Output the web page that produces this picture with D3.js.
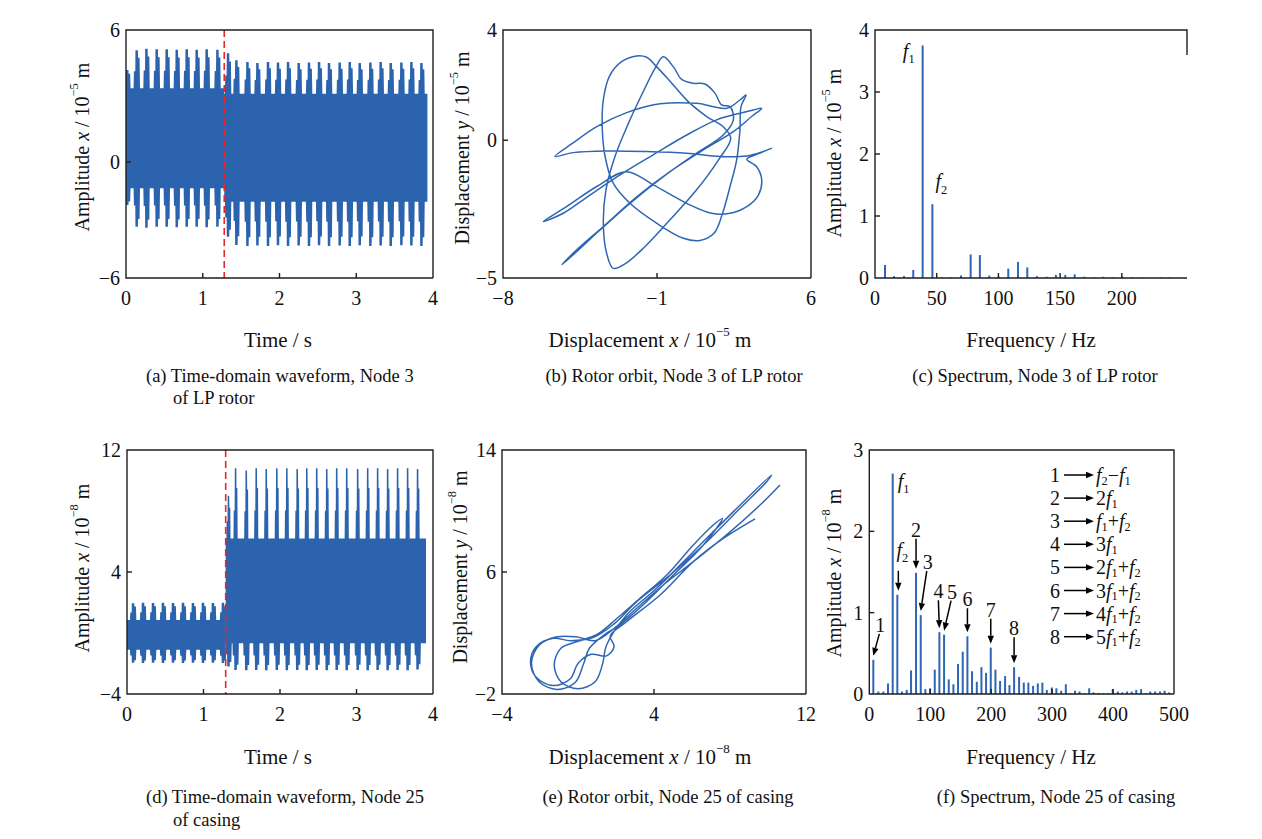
<!DOCTYPE html>
<html>
<head>
<meta charset="utf-8">
<script src="https://cdn.jsdelivr.net/npm/d3@7/dist/d3.min.js"></script>
<style>
  html, body { margin: 0; padding: 0; background: #fff; }
  svg { display: block; font-family: "Liberation Serif", "Times New Roman", serif; }
</style>
</head>
<body>
<svg id="fig" width="1262" height="839"></svg>
<script>
// ================= Data =================

// (a) Node 3 of LP rotor, time-domain waveform (10^-5 m), beat envelope
const aSwitch = 1.28, aEnd = 3.93;
const aBandHi = [3.35, 3.1];      // upper edge of the dense band: before / after the switch
const aBandLo = [-1.36, -2.05];   // lower edge of the dense band
const aBeatT  = [0.02, 0.143, 0.270, 0.404, 0.534, 0.665, 0.795, 0.925, 1.055, 1.195,
                 1.333, 1.442, 1.586, 1.716, 1.854, 1.984, 2.115, 2.254, 2.388, 2.519,
                 2.649, 2.788, 2.919, 3.049, 3.188, 3.322, 3.453, 3.592, 3.722, 3.853];
const aBeatHi = [4.18, 5.08, 5.15, 5.12, 5.12, 5.10, 5.12, 5.10, 5.12, 5.10,
                 4.94, 4.62, 4.55, 4.50, 4.55, 4.52, 4.55, 4.50, 4.52, 4.55,
                 4.50, 4.52, 4.55, 4.50, 4.52, 4.55, 4.50, 4.52, 4.55, 4.50];
const aBeatLo = [-2.22, -3.35, -3.40, -3.35, -3.35, -3.38, -3.35, -3.35, -3.38, -3.35,
                 -3.86, -4.29, -4.35, -4.32, -4.35, -4.30, -4.35, -4.32, -4.35, -4.30,
                 -4.35, -4.32, -4.35, -4.30, -4.35, -4.32, -4.35, -4.30, -4.32, -4.35];

// (b) Node 3 of LP rotor, orbit (10^-5 m)
const orbitB = [
  [-1.92, 3.06], [-2.61, 2.85], [-3.17, 2.31], [-3.44, 1.46], [-3.49, 0.49], [-3.36, -0.59],
  [-2.99, -1.56], [-2.23, -2.29], [-1.02, -3.01], [0.20, -3.56], [0.95, -3.64], [1.59, -3.38],
  [1.98, -2.65], [2.32, -1.68], [2.62, -0.72], [2.77, 0.37], [2.82, 1.22], [3.05, 1.64],
  [2.77, 1.46], [2.17, 1.16], [0.80, 1.34], [-0.86, 1.32], [-2.38, 1.00], [-3.74, 0.49],
  [-4.80, -0.09], [-5.64, -0.59], [-4.80, -0.45], [-3.29, -0.39], [-1.47, -0.41], [0.35, -0.47],
  [1.86, -0.59], [3.08, -0.57], [3.83, -0.41], [4.21, -0.29], [3.68, -0.47], [3.08, -0.69],
  [3.53, -0.96], [3.76, -1.44], [3.61, -1.99], [3.08, -2.41], [2.32, -2.65], [1.48, -2.65],
  [0.35, -2.29], [-1.17, -1.62], [-2.38, -1.14], [-3.74, -1.68], [-5.11, -2.41], [-6.17, -2.95],
  [-5.26, -2.65], [-4.05, -1.99], [-2.68, -1.26], [-1.17, -0.53], [0.35, 0.19], [1.71, 0.74],
  [2.77, 0.98], [3.38, 1.10], [3.76, 1.16], [3.30, 0.86], [2.47, 0.31], [1.11, -0.35],
  [-0.41, -1.14], [-1.92, -2.05], [-3.44, -3.13], [-4.65, -3.98], [-5.33, -4.52], [-4.73, -4.10],
  [-3.59, -3.26], [-2.23, -2.29], [-0.71, -1.32], [0.80, -0.47], [2.01, 0.19], [2.47, 0.74],
  [2.32, 1.22], [1.94, 1.28], [1.64, 1.70], [1.18, 2.04], [0.65, 2.07], [0.12, 2.21],
  [-0.26, 2.67], [-0.71, 3.03], [-1.09, 2.61], [-1.70, 1.64], [-2.30, 0.61], [-2.91, -0.59],
  [-3.32, -1.80], [-3.44, -3.01], [-3.29, -4.10], [-2.99, -4.65], [-2.46, -4.49], [-1.62, -3.92],
  [-0.41, -2.89], [0.80, -1.80], [1.79, -0.72], [2.35, 0.07], [2.01, 0.49], [1.26, 0.86],
  [0.42, 1.40], [-0.33, 2.07], [-1.02, 2.67], [-1.47, 3.01]
];

// (c) Node 3 of LP rotor, spectrum
const cFreq = [8.1, 15.4, 23.5, 31.0, 38.6, 46.5, 54.0, 61.8, 69.7, 77.5, 85.0, 92.6, 100.3,
               108.0, 115.9, 123.4, 131.2, 139.0, 146.6, 154.2, 161.8, 169.6, 177.3, 185.0,
               192.8, 200.5, 208.2, 216.0, 231.4, 239.1];
const cAmp  = [0.21, 0.03, 0.03, 0.13, 3.75, 1.19, 0.01, 0.01, 0.04, 0.38, 0.37, 0.04, 0.02,
               0.15, 0.26, 0.17, 0.03, 0.02, 0.05, 0.05, 0.06, 0.02, 0.01, 0.02,
               0.01, 0.02, 0.01, 0.01, 0.01, 0.01];

// (d) Node 25 of casing, time-domain waveform (10^-8 m), beat envelope
const dSwitch = 1.29, dEnd = 3.91;
const dBandHi = [0.85, 6.2];
const dBandLo = [-1.1, -0.68];
const dBeatT  = [0.083, 0.213, 0.344, 0.474, 0.605, 0.736, 0.866, 0.997, 1.127, 1.258,
                 1.330, 1.423, 1.563, 1.693, 1.824, 1.962, 2.093, 2.229, 2.354, 2.484,
                 2.615, 2.745, 2.876, 3.019, 3.150, 3.280, 3.411, 3.541, 3.672, 3.802];
const dBeatHi = [1.95, 1.98, 1.97, 1.98, 1.97, 1.98, 1.97, 1.98, 1.97, 1.98,
                 9.0, 10.8, 10.65, 10.8, 10.75, 10.8, 10.8, 10.75, 10.8, 10.8,
                 10.75, 10.8, 10.8, 10.75, 10.8, 10.8, 10.75, 10.8, 10.8, 10.75];
const dBeatLo = [-1.95, -1.97, -1.95, -1.97, -1.95, -1.97, -1.95, -1.97, -1.95, -1.97,
                 -2.2, -2.43, -2.45, -2.43, -2.45, -2.43, -2.45, -2.43, -2.45, -2.43,
                 -2.45, -2.43, -2.45, -2.43, -2.45, -2.43, -2.45, -2.43, -2.45, -2.40];

// (e) Node 25 of casing, orbit (10^-8 m)
const orbitE = [
  [10.63, 11.71], [9.58, 10.39], [7.82, 8.43], [6.07, 6.68], [4.49, 5.15], [3.09, 3.62],
  [1.90, 2.30], [0.90, 1.50], [-0.10, 1.75], [-1.10, 1.75], [-2.05, 1.20], [-2.45, 0.00],
  [-2.05, -1.20], [-1.10, -1.70], [-0.15, -1.25], [0.30, 0.00], [0.60, 1.00], [1.40, 1.90],
  [2.21, 2.53], [3.61, 4.06], [5.02, 5.80], [6.60, 7.77], [7.61, 9.52], [7.12, 9.08],
  [6.07, 7.77], [4.67, 5.80], [3.26, 4.27], [2.00, 2.90], [1.00, 1.90], [0.00, 1.45],
  [-0.90, 1.00], [-1.25, -0.10], [-0.90, -1.20], [0.00, -1.65], [0.90, -1.20], [1.30, 0.00],
  [1.50, 1.20], [2.56, 3.18], [4.14, 4.93], [6.07, 7.33], [8.18, 9.96], [10.19, 12.36],
  [9.93, 11.92], [8.53, 10.18], [6.60, 7.77], [4.84, 5.80], [3.09, 4.06], [1.90, 2.60],
  [0.80, 1.70], [-0.40, 1.50], [-1.30, 1.65], [-2.20, 1.10], [-2.50, 0.10], [-2.20, -0.90],
  [-1.30, -1.45], [-0.40, -1.00], [0.00, 0.00], [0.70, 0.60], [1.50, 0.50], [1.90, 1.10],
  [1.70, 1.80], [2.56, 2.74], [4.32, 4.49], [6.07, 6.68], [7.65, 8.20], [9.32, 9.48]
];

// (f) Node 25 of casing, spectrum
const fFreq = [6.6, 14.8, 23.0, 30.7, 38.4, 46.0, 53.7, 61.4, 68.5, 76.7, 84.4, 92.0, 99.7,
               107.4, 115.0, 122.7, 130.4, 138.0, 145.6, 153.3, 161.0, 168.6, 176.4, 184.0,
               191.6, 199.3, 207.0, 214.6, 222.8, 230.0, 237.6, 245.8, 253.5, 261.0, 268.8,
               276.5, 284.0, 291.3, 299.5, 307.0, 314.8, 322.5, 330.0, 337.6, 345.0, 353.0,
               360.8, 368.0, 376.0, 384.0, 392.0, 399.5, 407.7, 415.0, 423.0, 430.6, 438.0,
               446.0, 453.6, 461.0, 469.0, 477.0, 484.6, 492.0];
const fAmp  = [0.42, 0.03, 0.03, 0.13, 2.71, 1.22, 0.03, 0.05, 0.29, 1.49, 0.97, 0.06, 0.07,
               0.30, 0.76, 0.73, 0.18, 0.12, 0.37, 0.52, 0.71, 0.28, 0.15, 0.33,
               0.26, 0.57, 0.30, 0.16, 0.22, 0.11, 0.33, 0.21, 0.14, 0.14, 0.10,
               0.13, 0.14, 0.05, 0.08, 0.07, 0.04, 0.12, 0.01, 0.04, 0.03, 0.01,
               0.07, 0.02, 0.01, 0.01, 0.01, 0.06, 0.03, 0.02, 0.03, 0.03, 0.05,
               0.06, 0.01, 0.03, 0.03, 0.03, 0.04, 0.02];

// numbered peaks in (f) and the combination each one stands for
const fPeakNum  = ['1', '2', '3', '4', '5', '6', '7', '8'];
const fPeakFreq = [6.6, 76.7, 84.4, 115.0, 122.7, 161.0, 199.3, 237.6];
const fPeakName = [
  [['f', 'i'], ['2', 'sub'], ['−'], ['f', 'i'], ['1', 'sub']],
  [['2'], ['f', 'i'], ['1', 'sub']],
  [['f', 'i'], ['1', 'sub'], ['+'], ['f', 'i'], ['2', 'sub']],
  [['3'], ['f', 'i'], ['1', 'sub']],
  [['2'], ['f', 'i'], ['1', 'sub'], ['+'], ['f', 'i'], ['2', 'sub']],
  [['3'], ['f', 'i'], ['1', 'sub'], ['+'], ['f', 'i'], ['2', 'sub']],
  [['4'], ['f', 'i'], ['1', 'sub'], ['+'], ['f', 'i'], ['2', 'sub']],
  [['5'], ['f', 'i'], ['1', 'sub'], ['+'], ['f', 'i'], ['2', 'sub']]
];

// tick labels
const aTickX = [0, 1, 2, 3, 4],           aTickY = [-6, 0, 6];
const bTickX = [-8, -1, 6],               bTickY = [-5, 0, 4];
const cTickX = [0, 50, 100, 150, 200],    cTickY = [0, 1, 2, 3, 4];
const dTickX = [0, 1, 2, 3, 4],           dTickY = [-4, 4, 12];
const eTickX = [-4, 4, 12],               eTickY = [-2, 6, 14];
const fTickX = [0, 100, 200, 300, 400, 500], fTickY = [0, 1, 2, 3];

// ================= Drawing =================
const BLUE = '#2b63ae', LINE = '#2f66b4', AXIS = '#1e1e1e', RED = '#e8262d';
const svg = d3.select('#fig');
const fmt = v => v < 0 ? '−' + Math.abs(v) : String(v);

// text built from pieces: [str, style] with style 'i' italic, 'sub', 'sup'
function rich(sel, parts, size) {
  let level = 0;
  parts.forEach(([s, st]) => {
    const want = st === 'sup' ? -size * 0.42 : st === 'sub' ? size * 0.28 : 0;
    const ts = sel.append('tspan').text(s);
    if (want !== level) ts.attr('dy', want - level);
    level = want;
    if (st === 'i') ts.attr('font-style', 'italic');
    if (st === 'sup' || st === 'sub') ts.attr('font-size', size * 0.62);
  });
  return sel;
}

function panel(id, box, xs, ys) {
  const g = svg.append('g').attr('id', 'panel-' + id);
  return Object.assign({ id, g, x: xs, y: ys }, box);
}

const pa = panel('a', { x0: 126, x1: 433, y0: 30, y1: 278 },
  d3.scaleLinear([0, 4], [126, 433]), d3.scaleLinear([-6, 0, 6], [278, 162, 30]));
const pb = panel('b', { x0: 503, x1: 811, y0: 30, y1: 278 },
  d3.scaleLinear([-8, 6], [503, 811]), d3.scaleLinear([-5, 4], [278, 30]));
const pc = panel('c', { x0: 875, x1: 1187, y0: 30, y1: 278 },
  d3.scaleLinear([0, 252.5], [875, 1186.6]), d3.scaleLinear([0, 4], [278, 30]));
const pd = panel('d', { x0: 127, x1: 433, y0: 450, y1: 694 },
  d3.scaleLinear([0, 4], [127, 433]), d3.scaleLinear([-4, 12], [694, 450]));
const pe = panel('e', { x0: 502, x1: 806, y0: 450, y1: 694 },
  d3.scaleLinear([-4, 12], [502, 806]), d3.scaleLinear([-2, 14], [694, 450]));
const pf = panel('f', { x0: 869.3, x1: 1174, y0: 450, y1: 694 },
  d3.scaleLinear([0, 500], [869.3, 1174]), d3.scaleLinear([0, 3], [694, 450]));

// ---- waveform: dense band plus one tooth per beat on each side ----
// tooth outline as [time offset (s), fraction of the way from band edge to peak]
const TOOTH_WIDE = [[-0.045, -0.1], [-0.04, 0.45], [-0.022, 0.45], [-0.02, 1], [0.012, 1],
                    [0.014, 0.8], [0.034, 0.8], [0.04, -0.1]];
const TOOTH_THIN = [[-0.032, -0.1], [-0.028, 0.4], [-0.016, 0.4], [-0.014, 1], [0.006, 1],
                    [0.008, 0.72], [0.02, 0.72], [0.024, -0.1]];
function drawWave(p, sw, tEnd, bandHi, bandLo, beatT, beatHi, beatLo, shapes) {
  const clipId = 'clip-' + p.id;
  p.g.append('clipPath').attr('id', clipId).append('rect')
    .attr('x', p.x(0)).attr('y', p.y0).attr('width', p.x(tEnd) - p.x(0)).attr('height', p.y1 - p.y0);
  const w = p.g.append('g').attr('clip-path', `url(#${clipId})`).attr('fill', BLUE);
  const band = [[0, 0], [sw, 0], [sw, 1], [tEnd, 1]];
  w.append('path').attr('d', d3.area()
    .x(d => p.x(d[0])).y0(d => p.y(bandLo[d[1]])).y1(d => p.y(bandHi[d[1]]))(band));
  const line = d3.line().x(d => p.x(d[0])).y(d => p.y(d[1]));
  beatT.forEach((t, i) => {
    const k = t < sw ? 0 : 1;
    const up = shapes[k].up.map(([dt, f]) => [t + dt, bandHi[k] + f * (beatHi[i] - bandHi[k])]);
    const dn = shapes[k].dn.map(([dt, f]) => [t + dt, bandLo[k] + f * (beatLo[i] - bandLo[k])]);
    w.append('path').attr('d', line(up) + 'Z');
    w.append('path').attr('d', line(dn) + 'Z');
  });
  p.g.append('line')
    .attr('x1', p.x(sw)).attr('x2', p.x(sw)).attr('y1', p.y0).attr('y2', p.y1)
    .attr('stroke', RED).attr('stroke-width', 1.6).attr('stroke-dasharray', '7,4');
}

// ---- orbit ----
function drawOrbit(p, pts, closed) {
  const clipId = 'clip-' + p.id;
  p.g.append('clipPath').attr('id', clipId).append('rect')
    .attr('x', p.x0).attr('y', p.y0).attr('width', p.x1 - p.x0).attr('height', p.y1 - p.y0);
  p.g.append('path')
    .attr('clip-path', `url(#${clipId})`)
    .attr('d', d3.line()
      .x(d => p.x(d[0])).y(d => p.y(d[1]))
      .curve(closed ? d3.curveCatmullRomClosed.alpha(0.5) : d3.curveCatmullRom.alpha(0.5))(pts))
    .attr('fill', 'none').attr('stroke', LINE).attr('stroke-width', 1.5)
    .attr('stroke-linejoin', 'round');
}

// ---- spectrum ----
function drawSpectrum(p, freq, amp) {
  p.g.append('g').selectAll('line').data(freq).join('line')
    .attr('x1', d => p.x(d)).attr('x2', d => p.x(d))
    .attr('y1', p.y(0)).attr('y2', (d, i) => p.y(amp[i]))
    .attr('stroke', LINE).attr('stroke-width', 2);
}

// ---- frame, ticks, labels ----
function drawAxes(p, tickX, tickY, innerX, innerY, rightTo) {
  const a = p.g.append('g').attr('stroke', AXIS).attr('stroke-width', 1.4).attr('fill', 'none');
  const top = rightTo == null ? p.y1 : rightTo;
  a.append('path').attr('d',
    `M${p.x1},${top}L${p.x1},${p.y0}L${p.x0},${p.y0}L${p.x0},${p.y1}L${p.x1},${p.y1}`);
  innerX.forEach(v => a.append('line').attr('x1', p.x(v)).attr('x2', p.x(v))
    .attr('y1', p.y1).attr('y2', p.y1 - 5));
  innerY.forEach(v => a.append('line').attr('x1', p.x0).attr('x2', p.x0 + 5)
    .attr('y1', p.y(v)).attr('y2', p.y(v)));
  const t = p.g.append('g').attr('font-size', 20).attr('fill', '#111');
  t.selectAll('.tx').data(tickX).join('text').attr('class', 'tx')
    .attr('x', d => p.x(d)).attr('y', p.y1 + 20).attr('text-anchor', 'middle')
    .attr('dominant-baseline', 'central').text(fmt);
  t.selectAll('.ty').data(tickY).join('text').attr('class', 'ty')
    .attr('x', p.x0 - 6).attr('y', d => p.y(d)).attr('text-anchor', 'end')
    .attr('dominant-baseline', 'central').text(fmt);
}

function yTitle(cx, cy, parts) {
  rich(svg.append('text').attr('transform', `translate(${cx},${cy}) rotate(-90)`)
    .attr('text-anchor', 'middle').attr('dominant-baseline', 'central')
    .attr('font-size', 20).attr('fill', '#111'), parts, 20);
}
function xTitle(cx, cy, parts) {
  rich(svg.append('text').attr('x', cx).attr('y', cy)
    .attr('text-anchor', 'middle').attr('dominant-baseline', 'central')
    .attr('font-size', 21).attr('fill', '#111'), parts, 21);
}
function caption(x, y, str, anchor) {
  svg.append('text').attr('x', x).attr('y', y).attr('text-anchor', anchor)
    .attr('dominant-baseline', 'central').attr('font-size', 18.5).attr('fill', '#111').text(str);
}

// arrow with filled head ending at (x2, y2)
function arrow(g, x1, y1, x2, y2) {
  const ang = Math.atan2(y2 - y1, x2 - x1), L = 8, Wd = 3.2;
  const bx = x2 - L * Math.cos(ang), by = y2 - L * Math.sin(ang);
  g.append('line').attr('x1', x1).attr('y1', y1).attr('x2', bx).attr('y2', by)
    .attr('stroke', '#000').attr('stroke-width', 1.5);
  g.append('path').attr('fill', '#000').attr('d',
    `M${x2},${y2}L${bx + Wd * Math.sin(ang)},${by - Wd * Math.cos(ang)}` +
    `L${bx - Wd * Math.sin(ang)},${by + Wd * Math.cos(ang)}Z`);
}

// ---- panels ----
const shapesA = [{ up: TOOTH_WIDE, dn: TOOTH_WIDE }, { up: TOOTH_WIDE, dn: TOOTH_WIDE }];
const shapesD = [{ up: TOOTH_WIDE, dn: TOOTH_WIDE }, { up: TOOTH_THIN, dn: TOOTH_WIDE }];
drawWave(pa, aSwitch, aEnd, aBandHi, aBandLo, aBeatT, aBeatHi, aBeatLo, shapesA);
drawAxes(pa, aTickX, aTickY, [1, 2, 3], [0]);
drawOrbit(pb, orbitB, true);
drawAxes(pb, bTickX, bTickY, [-1], [0]);
drawSpectrum(pc, cFreq, cAmp);
drawAxes(pc, cTickX, cTickY, [50, 100, 150, 200], [1, 2, 3], 55);
drawWave(pd, dSwitch, dEnd, dBandHi, dBandLo, dBeatT, dBeatHi, dBeatLo, shapesD);
drawAxes(pd, dTickX, dTickY, [1, 2, 3], [4]);
drawOrbit(pe, orbitE, false);
drawAxes(pe, eTickX, eTickY, [4], [6]);
drawSpectrum(pf, fFreq, fAmp);
drawAxes(pf, fTickX, fTickY, [100, 200, 300, 400], [1, 2]);

// axis titles
const amp5 = [['Amplitude '], ['x', 'i'], [' / 10'], ['−5', 'sup'], [' m']];
const amp8 = [['Amplitude '], ['x', 'i'], [' / 10'], ['−8', 'sup'], [' m']];
yTitle(82, 147, amp5);
yTitle(462, 148, [['Displacement '], ['y', 'i'], [' / 10'], ['−5', 'sup'], [' m']]);
yTitle(834, 153, amp5);
yTitle(82, 568, amp8);
yTitle(460, 567, [['Displacement '], ['y', 'i'], [' / 10'], ['−8', 'sup'], [' m']]);
yTitle(834, 573, amp8);
xTitle(278, 340, [['Time / s']]);
xTitle(650, 340, [['Displacement '], ['x', 'i'], [' / 10'], ['−5', 'sup'], [' m']]);
xTitle(1031, 340, [['Frequency / Hz']]);
xTitle(278, 757, [['Time / s']]);
xTitle(650, 757, [['Displacement '], ['x', 'i'], [' / 10'], ['−8', 'sup'], [' m']]);
xTitle(1031, 757, [['Frequency / Hz']]);

// captions
caption(146, 376, '(a) Time-domain waveform, Node 3', 'start');
caption(173, 398, 'of LP rotor', 'start');
caption(674, 376, '(b) Rotor orbit, Node 3 of LP rotor', 'middle');
caption(1035, 376, '(c) Spectrum, Node 3 of LP rotor', 'middle');
caption(146, 797, '(d) Time-domain waveform, Node 25', 'start');
caption(173, 820, 'of casing', 'start');
caption(668, 797, '(e) Rotor orbit, Node 25 of casing', 'middle');
caption(1056, 797, '(f) Spectrum, Node 25 of casing', 'middle');

// peak names in (c)
const cAnn = pc.g.append('g').attr('font-size', 20).attr('fill', '#111');
rich(cAnn.append('text').attr('x', pc.x(cFreq[4]) - 8).attr('y', pc.y(cAmp[4]) + 12)
  .attr('text-anchor', 'end'), [['f', 'i'], ['1', 'sub']], 20);
rich(cAnn.append('text').attr('x', pc.x(cFreq[5]) + 3).attr('y', pc.y(cAmp[5]) - 16)
  .attr('text-anchor', 'start'), [['f', 'i'], ['2', 'sub']], 20);

// peak names and numbered arrows in (f)
const fAnn = pf.g.append('g').attr('font-size', 20).attr('fill', '#111');
rich(fAnn.append('text').attr('x', pf.x(fFreq[4]) + 5).attr('y', pf.y(fAmp[4]) + 14),
  [['f', 'i'], ['1', 'sub']], 20);
{
  const tx = pf.x(fFreq[5]), ty = pf.y(fAmp[5]) - 4;
  arrow(fAnn, tx + 1, ty - 20, tx + 1, ty);
  rich(fAnn.append('text').attr('x', tx + 5).attr('y', ty - 34).attr('text-anchor', 'middle'),
    [['f', 'i'], ['2', 'sub']], 20);
}
// arrow tail offsets (dx, rise) per numbered peak
const tail = [[6, 22], [0, 30], [6, 40], [-1, 28], [7, 30], [0, 24], [0, 25], [0, 26]];
fPeakFreq.forEach((fr, i) => {
  const k = fFreq.indexOf(fr);
  const tx = pf.x(fr), ty = pf.y(fAmp[k]) - 4;
  const [dx, rise] = tail[i];
  arrow(fAnn, tx + dx, ty - rise, tx, ty);
  fAnn.append('text').attr('x', tx + dx + (dx > 0 ? 1 : 0)).attr('y', ty - rise - 9)
    .attr('text-anchor', 'middle').attr('dominant-baseline', 'central').text(fPeakNum[i]);
});
// legend of numbered peaks
const leg = pf.g.append('g').attr('font-size', 20).attr('fill', '#111');
fPeakNum.forEach((n, i) => {
  const y = 475 + i * 23.1;
  leg.append('text').attr('x', 1055).attr('y', y).attr('text-anchor', 'middle')
    .attr('dominant-baseline', 'central').text(n);
  arrow(leg, 1064, y, 1094, y);
  rich(leg.append('text').attr('x', 1096).attr('y', y).attr('dominant-baseline', 'central'),
    fPeakName[i], 20);
});
</script>
</body>
</html>
